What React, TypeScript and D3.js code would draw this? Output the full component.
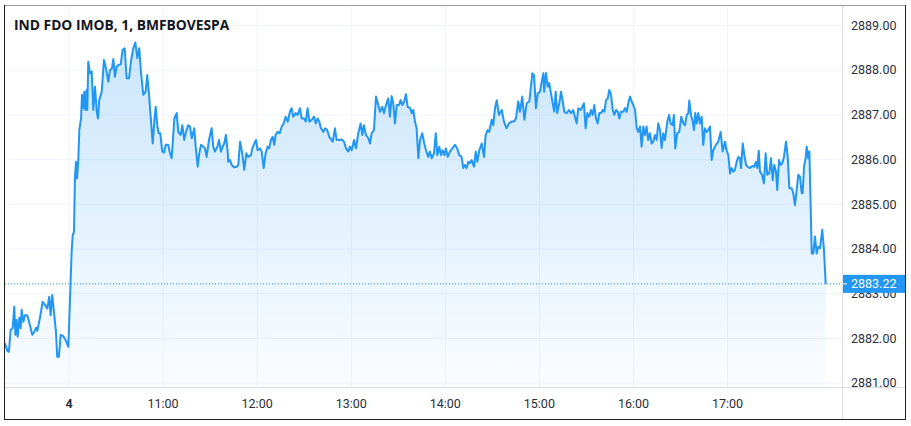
import React from "react";
import * as d3 from "d3";

// minutes relative to 10:00 of day 4
const minutes: number[] = [
  -40.8,-39.3,-38.3,-37.2,-35.9,-34.9,-34.2,-33.4,-32.7,-31.7,
  -30.8,-30.2,-29.1,-28.1,-26.6,-24.9,-23.4,-22.1,-21.0,-20.2,
  -18.5,-16.8,-15.3,-13.8,-12.6,-11.7,-10.7,-9.6,-8.3,-7.5,
  -6.4,-5.3,-3.6,-2.1,-0.4,0.6,1.7,2.4,3.2,3.8,
  4.5,5.1,5.9,6.6,7.7,8.3,9.1,9.8,10.4,11.3,
  11.7,12.3,13.4,14.5,15.5,16.6,17.7,18.5,19.3,20.9,
  22.3,23.6,25.1,26.1,27.4,28.3,29.3,30.4,31.7,33.0,
  34.2,35.5,36.8,38.3,39.5,41.0,42.3,43.6,44.8,45.9,
  47.4,48.9,49.9,51.0,52.1,53.4,54.4,55.3,56.3,57.2,
  58.2,59.5,60.6,61.7,63.3,64.4,65.5,67.2,68.7,69.7,
  71.2,72.3,73.5,74.6,76.1,77.2,78.3,79.9,80.8,82.1,
  83.1,84.2,85.7,86.7,87.8,89.3,91.0,92.0,93.1,94.6,
  95.7,96.9,98.0,99.0,100.1,101.2,101.6,102.7,103.8,105.2,
  107.0,108.0,109.1,110.5,111.8,113.1,114.3,116.1,116.9,118.2,
  119.3,120.3,121.8,122.9,124.2,125.4,126.7,127.7,128.8,129.9,
  130.9,131.8,133.1,134.4,135.7,136.9,138.2,139.5,140.9,142.0,
  143.0,144.6,145.9,147.3,148.4,149.9,151.0,152.2,153.3,154.8,
  156.3,157.4,158.6,159.6,160.7,162.2,163.3,164.7,166.0,168.2,
  169.6,170.7,172.4,173.9,175.4,176.7,178.1,179.2,180.3,181.8,
  183.0,184.5,186.0,187.1,188.1,189.4,190.9,192.0,193.0,194.5,
  195.8,197.3,198.3,199.8,200.9,202.2,203.6,204.7,205.8,206.8,
  207.9,209.0,210.5,211.5,212.6,213.8,214.9,216.0,217.5,218.6,
  219.6,220.7,221.7,222.8,223.9,225.3,226.6,227.7,229.1,230.2,
  231.3,232.8,233.9,234.9,236.2,237.2,238.3,239.4,240.4,241.5,
  243.0,244.5,246.2,247.6,248.9,250.4,251.5,252.6,253.6,254.7,
  255.7,256.8,258.3,259.4,260.4,261.7,263.2,264.7,265.7,267.0,
  268.0,269.6,270.6,271.7,272.8,274.2,276.0,277.4,279.1,280.6,
  282.3,283.8,285.1,286.5,287.6,289.1,290.4,291.9,293.6,294.6,
  295.5,296.6,297.8,298.9,300.4,301.5,302.5,303.1,304.2,305.3,
  306.3,307.4,308.5,309.5,310.4,311.4,312.7,313.8,314.9,315.9,
  317.4,318.9,320.2,321.6,322.7,323.8,324.8,326.3,327.4,328.4,
  329.5,330.6,331.8,332.9,334.0,335.0,336.1,337.2,338.2,339.3,
  340.4,341.4,342.5,343.6,344.6,345.7,346.8,347.8,348.9,350.0,
  351.0,352.0,353.5,354.6,355.7,356.7,357.8,358.9,359.9,361.0,
  362.1,363.1,364.2,365.2,366.3,367.3,368.4,369.4,370.5,371.6,
  372.6,373.7,374.8,375.8,376.9,378.0,379.0,380.1,381.6,382.7,
  383.7,385.0,385.8,386.7,387.9,389.2,390.5,391.8,392.9,394.0,
  395.0,395.6,396.7,397.8,398.6,399.4,400.3,401.3,402.4,403.5,
  404.5,405.6,406.7,407.7,408.8,409.9,410.9,412.6,414.1,415.6,
  416.9,418.4,419.4,420.5,421.6,422.6,423.7,424.7,425.8,426.9,
  427.9,428.6,429.7,430.7,431.8,432.8,434.3,435.8,437.1,438.1,
  439.0,439.9,440.7,442.0,443.2,444.3,445.3,446.6,447.7,448.8,
  449.8,450.9,451.7,452.8,453.9,454.9,456.0,457.3,458.4,459.4,
  460.9,461.9,463.0,464.1,465.1,466.2,467.3,467.9,468.8,469.8,
  470.5,471.5,472.2,473.0,473.7,474.7,475.8,476.8,477.9,479.0,
  480.4,481.5,482.6,
];

const prices: number[] = [
  2881.89,2881.72,2881.70,2882.19,2882.23,2882.71,2882.08,2882.41,2882.04,2882.46,
  2882.23,2882.64,2882.37,2882.52,2882.52,2882.30,2882.08,2882.15,2882.24,2882.17,
  2882.46,2882.82,2882.75,2882.67,2882.93,2882.52,2882.97,2882.60,2882.15,2881.59,
  2881.59,2882.08,2882.05,2881.96,2881.81,2882.82,2883.94,2884.31,2884.39,2885.58,
  2885.95,2885.58,2885.95,2886.66,2886.92,2887.45,2887.15,2887.52,2887.11,2887.56,
  2887.11,2888.19,2887.93,2887.97,2887.11,2887.63,2887.07,2886.92,2887.33,2887.52,
  2888.23,2888.04,2887.74,2888.00,2888.04,2888.25,2887.85,2888.08,2888.12,2888.13,
  2888.45,2888.49,2887.82,2887.82,2888.19,2888.49,2888.62,2888.27,2888.49,2887.97,
  2887.45,2887.52,2887.89,2887.48,2886.96,2886.36,2886.85,2887.18,2886.77,2886.59,
  2886.59,2886.18,2886.16,2886.33,2886.33,2886.14,2886.03,2886.92,2887.04,2886.62,
  2886.55,2886.77,2886.44,2886.62,2886.77,2886.74,2886.48,2886.70,2886.29,2885.84,
  2886.14,2886.33,2886.29,2886.25,2886.06,2886.44,2886.70,2886.29,2886.18,2886.29,
  2886.44,2886.18,2886.29,2886.36,2886.55,2886.18,2885.95,2885.99,2885.88,2885.83,
  2885.84,2885.88,2886.40,2886.14,2885.77,2886.14,2886.06,2886.10,2886.25,2886.36,
  2886.44,2886.21,2886.25,2886.18,2885.81,2886.14,2886.29,2886.25,2886.44,2886.51,
  2886.33,2886.55,2886.62,2886.59,2886.74,2886.81,2886.96,2886.85,2887.07,2887.15,
  2886.96,2887.04,2887.00,2887.15,2886.92,2886.92,2886.85,2887.15,2886.85,2886.89,
  2886.96,2886.81,2886.92,2886.85,2886.70,2886.62,2886.70,2886.66,2886.51,2886.40,
  2886.70,2886.44,2886.44,2886.45,2886.40,2886.25,2886.18,2886.29,2886.21,2886.44,
  2886.25,2886.59,2886.81,2886.55,2886.77,2886.55,2886.48,2886.36,2886.59,2886.66,
  2887.41,2887.22,2887.07,2887.18,2887.04,2887.22,2887.37,2886.96,2887.42,2887.26,
  2886.81,2887.22,2887.22,2887.33,2887.22,2887.30,2887.46,2887.18,2887.15,2887.04,
  2887.11,2886.85,2886.70,2886.03,2886.44,2886.59,2886.36,2886.21,2886.06,2886.18,
  2886.03,2886.14,2886.59,2886.10,2886.29,2886.10,2886.21,2886.10,2886.25,2886.06,
  2886.18,2886.25,2886.33,2886.25,2886.10,2886.06,2885.81,2885.88,2885.81,2885.95,
  2885.92,2885.99,2885.84,2886.18,2885.95,2886.21,2886.36,2886.06,2886.55,2886.66,
  2886.62,2886.89,2886.77,2887.15,2887.33,2887.00,2887.11,2886.85,2886.70,2886.81,
  2886.85,2886.85,2886.92,2887.30,2887.07,2887.41,2886.89,2887.26,2887.30,2887.63,
  2887.93,2887.89,2887.15,2887.48,2887.52,2887.74,2887.93,2887.52,2887.94,2887.63,
  2887.71,2887.48,2887.26,2887.07,2887.52,2887.04,2887.26,2887.52,2887.30,2887.07,
  2887.04,2887.11,2887.04,2887.11,2886.96,2886.81,2887.15,2887.11,2887.18,2887.26,
  2886.70,2887.04,2886.96,2887.11,2887.00,2887.22,2886.92,2886.81,2887.04,2887.04,
  2887.11,2887.07,2887.33,2887.37,2887.56,2887.45,2887.11,2887.00,2887.11,2887.07,
  2886.92,2887.07,2887.07,2887.15,2887.07,2887.26,2887.41,2887.30,2887.22,2887.11,
  2886.70,2886.62,2886.74,2886.29,2886.74,2886.55,2886.74,2886.44,2886.59,2886.36,
  2886.40,2886.55,2886.44,2886.81,2886.66,2886.26,2886.59,2886.44,2886.85,2887.00,
  2886.81,2886.77,2887.00,2886.25,2886.59,2886.62,2886.96,2886.81,2886.77,2887.00,
  2887.04,2887.32,2887.00,2886.85,2886.66,2887.04,2886.81,2887.04,2886.81,2886.96,
  2886.33,2886.70,2886.62,2886.66,2886.74,2885.99,2886.21,2886.33,2886.40,2886.62,
  2886.18,2886.40,2886.21,2886.10,2885.69,2885.81,2885.73,2885.77,2885.95,2886.06,
  2886.03,2885.81,2886.36,2886.10,2885.88,2885.84,2885.81,2885.86,2885.84,2885.95,
  2885.81,2886.20,2885.73,2885.66,2885.47,2886.14,2885.66,2885.69,2886.03,2885.54,
  2885.88,2885.73,2885.32,2885.99,2885.88,2885.92,2886.06,2886.40,2886.06,2885.36,
  2885.36,2885.25,2884.98,2885.32,2885.66,2885.62,2885.25,2885.25,2885.84,2886.03,
  2886.29,2886.03,2886.18,2884.98,2883.90,2883.90,2884.28,2883.90,2884.05,2884.02,
  2884.43,2883.98,2883.22,
];

const priceTicks: number[] = [2881, 2882, 2883, 2884, 2885, 2886, 2887, 2888, 2889];
const timeTicks: number[] = [0, 60, 120, 180, 240, 300, 360, 420];
const timeLabels: string[] = ["4", "11:00", "12:00", "13:00", "14:00", "15:00", "16:00", "17:00"];
const title = "IND FDO IMOB, 1, BMFBOVESPA";
const lastPrice = 2883.22;

const W = 911;
const H = 426;
const L = 5;
const R = 842;
const T = 5;
const B = 387;

export default function App() {
  const x = d3.scaleLinear().domain([-40.8, 493]).range([L, R]);
  const y = d3.scaleLinear().domain([2881, 2889]).range([383.1, 25.5]);
  const pts = minutes.map((m, i) => [m, prices[i]] as [number, number]);
  const line = d3.line<[number, number]>().x(d => x(d[0])).y(d => y(d[1]));
  const area = d3.area<[number, number]>().x(d => x(d[0])).y0(B).y1(d => y(d[1]));
  const font = "Roboto, 'DejaVu Sans', sans-serif";
  const yl = y(lastPrice);
  return (
    <svg width={W} height={H} style={{ position: "absolute", left: 0, top: 0, background: "#fff" }}>
      <defs>
        <linearGradient id="fillGrad" gradientUnits="userSpaceOnUse" x1="0" y1={40} x2="0" y2={B}>
          <stop offset="0" stopColor="#2196f3" stopOpacity={0.24} />
          <stop offset="1" stopColor="#2196f3" stopOpacity={0.02} />
        </linearGradient>
        <clipPath id="plotClip">
          <rect x={L} y={T} width={R - L} height={B - T} />
        </clipPath>
        <clipPath id="axisClip">
          <rect x={R + 1} y={T} width={905 - R - 1} height={B - T} />
        </clipPath>
      </defs>
      <rect x={0} y={0} width={W} height={H} fill="#fff" />
      {priceTicks.map(p => (
        <line key={"h" + p} x1={L} x2={R} y1={y(p)} y2={y(p)} stroke="#f0f3fa" strokeWidth={1} />
      ))}
      {timeTicks.map(t => (
        <line key={"v" + t} x1={x(t)} x2={x(t)} y1={T} y2={B} stroke="#f0f3fa" strokeWidth={1} />
      ))}
      <g clipPath="url(#plotClip)">
        <path d={area(pts) || ""} fill="url(#fillGrad)" />
        <path d={line(pts) || ""} fill="none" stroke="#2196f3" strokeWidth={2} strokeLinejoin="round" />
      </g>
      <line x1={L} x2={R} y1={yl} y2={yl} stroke="#2196f3" strokeWidth={1} strokeDasharray="1,2" />
      <line x1={R + 0.5} x2={R + 0.5} y1={T} y2={419} stroke="#dcdee3" strokeWidth={1} />
      <line x1={L} x2={905} y1={B + 0.5} y2={B + 0.5} stroke="#dcdee3" strokeWidth={1} />
      <g clipPath="url(#axisClip)">
        {priceTicks.map(p => (
          <text key={"pl" + p} x={851} y={y(p) + 1} dominantBaseline="middle" fontFamily={font} fontSize={12.5} fill="#2a2e39">
            {p.toFixed(2)}
          </text>
        ))}
      </g>
      <rect x={R + 1} y={yl - 9} width={905 - R - 1} height={18} fill="#2196f3" />
      <line x1={R + 1} x2={R + 5} y1={yl} y2={yl} stroke="#fff" strokeWidth={1} />
      <text x={851} y={yl + 0.5} dominantBaseline="middle" fontFamily={font} fontSize={12.5} fill="#fff">
        {lastPrice.toFixed(2)}
      </text>
      {timeTicks.map((t, i) => (
        <text key={"tl" + t} x={x(t)} y={405} textAnchor="middle" dominantBaseline="middle" fontFamily={font}
          fontSize={12.5} fill="#2a2e39" fontWeight={i === 0 ? 700 : 400}>
          {timeLabels[i]}
        </text>
      ))}
      <text x={14} y={29.5} fontFamily="'Open Sans', sans-serif" fontWeight={700} fontSize={13.8} fill="#131722">
        {title}
      </text>
      <line x1={4.5} x2={905.5} y1={5.5} y2={5.5} stroke="#9a9a9a" strokeWidth={1} />
      <line x1={4.5} x2={4.5} y1={5} y2={420} stroke="#222" strokeWidth={1} />
      <line x1={905.5} x2={905.5} y1={5} y2={420} stroke="#222" strokeWidth={1} />
      <line x1={4.5} x2={905.5} y1={419.5} y2={419.5} stroke="#222" strokeWidth={1} />
    </svg>
  );
}
